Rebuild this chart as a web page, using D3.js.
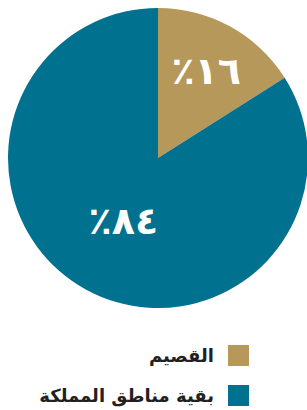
<!DOCTYPE html>
<html lang="ar">
  <head>
    <meta charset="UTF-8" />
    <title>القصيم</title>
    <script src="https://d3js.org/d3.v7.min.js"></script>
    <style>
      body { margin: 0; background: #fff; }
      svg { display: block; }
      .label { fill: #fff; font-family: "DejaVu Sans", sans-serif; font-weight: bold; font-size: 38px; letter-spacing: 3px; }
      .legend text { fill: #231f20; font-family: "DejaVu Sans", sans-serif; font-weight: bold; font-size: 18px; }
    </style>
  </head>
  <body>
    <svg width="307" height="410"></svg>
    <script>
      // data
      const categories = ["القصيم", "بقية مناطق المملكة"];
      const values = [16, 84];
      const labels = ["١٦٪", "٨٤٪"];
      const colors = ["#b5985a", "#00718f"];

      const svg = d3.select("svg");
      const cx = 158, cy = 158, radius = 150;

      const g = svg.append("g").attr("transform", `translate(${cx},${cy})`);

      const pie = d3.pie().sort(null).value((d) => d);
      const arcs = pie(values);
      const arc = d3.arc().innerRadius(0).outerRadius(radius);

      g.selectAll("path")
        .data(arcs)
        .enter()
        .append("path")
        .attr("d", arc)
        .attr("fill", (d, i) => colors[i]);

      // label radius per slice
      const labelR = [100, 72];
      g.selectAll(".label")
        .data(arcs)
        .enter()
        .append("text")
        .attr("class", "label")
        .attr("direction", "rtl")
        .attr("text-anchor", "middle")
        .attr("dy", "0.35em")
        .attr("transform", (d, i) => {
          const a = d3.arc().innerRadius(labelR[i]).outerRadius(labelR[i]);
          return `translate(${a.centroid(d)})`;
        })
        .text((d, i) => labels[i]);

      // legend
      const legend = svg.append("g").attr("class", "legend");
      const rows = legend.selectAll("g")
        .data(categories)
        .enter()
        .append("g")
        .attr("transform", (d, i) => `translate(228,${345 + i * 40})`);
      rows.append("rect")
        .attr("width", 21)
        .attr("height", 21)
        .attr("fill", (d, i) => colors[i]);
      rows.append("text")
        .attr("x", -14)
        .attr("y", 11)
        .attr("dy", "0.35em")
        .attr("direction", "rtl")
        .attr("text-anchor", "start")
        .text((d) => d);
    </script>
  </body>
</html>
